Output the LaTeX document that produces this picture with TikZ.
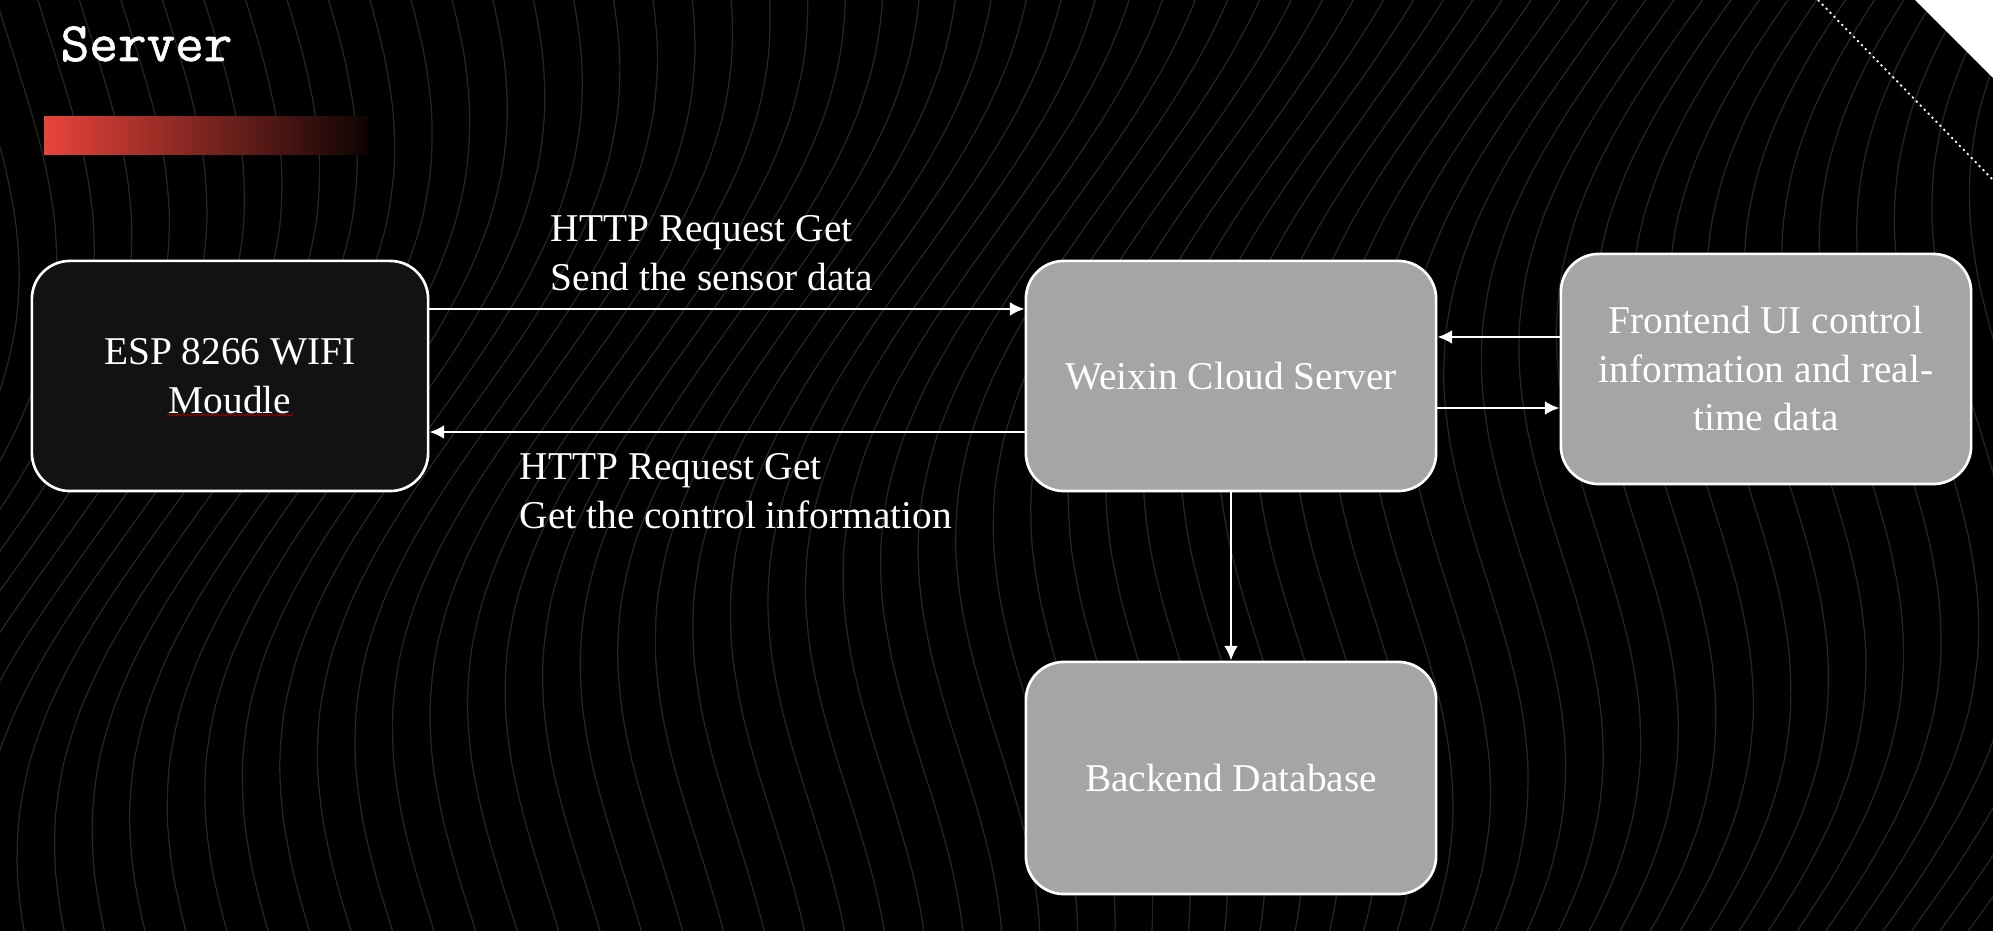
\documentclass[tikz,border=0pt]{standalone}
\usepackage{fontspec}
\setmainfont{Liberation Serif}
\newfontfamily\titlefont[FakeBold=1.2]{Latin Modern Mono}
\usepackage{tikz}
\usepackage{xcolor}
\usetikzlibrary{arrows.meta,decorations.pathmorphing}

\definecolor{boxgray}{HTML}{A5A5A5}
\definecolor{espfill}{HTML}{121212}
\definecolor{barred}{HTML}{E8443B}
\definecolor{contourcol}{HTML}{262626}

\tikzset{
  block/.style={draw=white, line width=0.75pt, rounded corners=0.38cm, fill=boxgray, text=white,
    align=center, minimum width=4.1cm, minimum height=2.3cm, inner sep=0pt,
    font=\fontsize{11.2}{13.8}\selectfont},
  link/.style={white, line width=0.8pt, -{Latex[length=4.2pt,width=4pt]}},
  lbl/.style={text=white, align=left, inner sep=0pt, anchor=north west,
    font=\fontsize{11.2}{13.8}\selectfont}
}

\begin{document}
\begin{tikzpicture}[x=0.01cm,y=-0.01cm]
                \fill[black] (0,0) rectangle (1993,931);
                \useasboundingbox (0,0) rectangle (1993,931);
                % background contour lines
                \begin{scope}
                \clip (0,0) rectangle (1993,931);
                \foreach \i in {-300,-265,...,2300}
                  \draw[contourcol, line width=0.35pt] plot[smooth, variable=\t, domain=-50:980, samples=20]
                    ({\i+90*sin(0.33*\t+0.12*\i)+0.2*(931-\t)},\t);
                \end{scope}
                \fill[white] (1915,0) -- (1993,0) -- (1993,78) -- cycle;
                \draw[white, line width=0.5pt, dash pattern=on 0.6pt off 1pt] (1818,0) -- (1993,180);
                % title
                \node[text=white, anchor=base west, inner sep=0pt, font=\titlefont\fontsize{15.8}{18}\selectfont] (title) at (60,61) {Server};
                \shade[left color=barred, right color=black!94!barred] (44,117) rectangle (368,155);
                % blocks
                \node[block, fill=espfill, minimum width=3.96cm] (esp) at (230,376) {ESP 8266 WIFI\\Moudle};
                \node[block] (cloud) at (1231,376) {Weixin Cloud Server};
                \node[block] (front) at (1766,369) {Frontend UI control\\information and real-\\time data};
                \node[block, minimum height=2.32cm] (db) at (1231,778) {Backend Database};
                \draw[red!60!black, line width=0.3pt, decorate, decoration={snake, amplitude=0.25pt, segment length=1.4pt}]
                  ([xshift=-0.63cm,yshift=-0.39cm]esp.center) -- ([xshift=0.63cm,yshift=-0.39cm]esp.center);
                % connectors
                \draw[link] ([yshift=0.67cm]esp.east) -- ([yshift=0.67cm]esp.east -| cloud.west);
                \draw[link] ([yshift=-0.56cm]cloud.west) -- ([yshift=-0.56cm]cloud.west -| esp.east);
                \draw[link] ([yshift=0.32cm]front.west) -- ([yshift=0.32cm]front.west -| cloud.east);
                \draw[link] ([yshift=-0.32cm]cloud.east) -- ([yshift=-0.32cm]cloud.east -| front.west);
                \draw[link] (cloud.south) -- (db.north);
                \node[lbl] (sendlbl) at (550,215) {HTTP Request Get\\Send the sensor data};
                \node[lbl] (getlbl) at (519,453) {HTTP Request Get\\Get the control information};
            \end{tikzpicture}
\end{document}
